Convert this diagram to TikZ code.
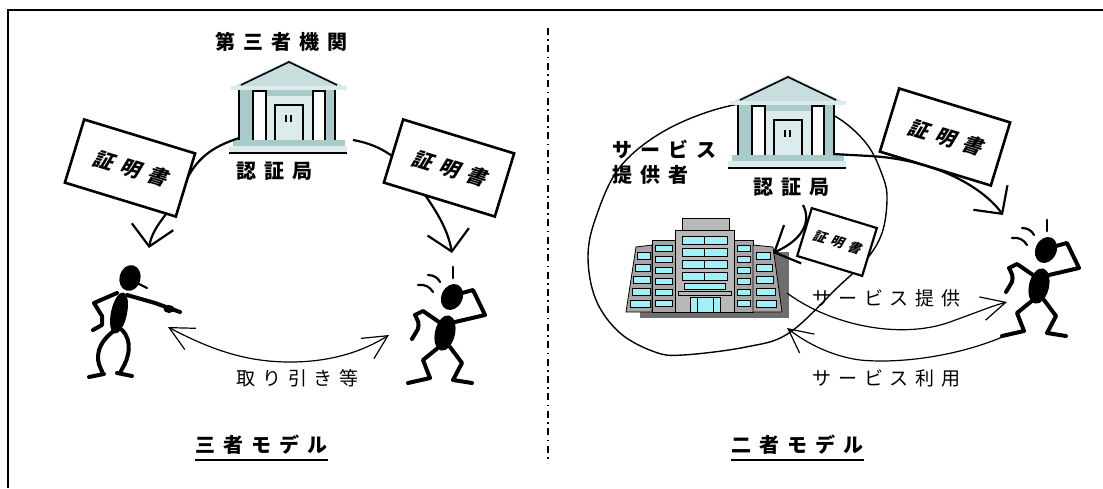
\documentclass[tikz,border=0pt]{standalone}
\usepackage{fontspec}
\newfontfamily\jp{Noto Sans CJK JP}
\newfontfamily\jpslant{Noto Sans CJK JP}[FakeSlant=0.25]
\usetikzlibrary{arrows.meta}

\definecolor{bankroof}{RGB}{200,222,222}
\definecolor{bankbody}{RGB}{168,202,202}
\definecolor{bankpale}{RGB}{220,235,235}
\definecolor{officewall}{RGB}{166,166,166}
\definecolor{officetower}{RGB}{184,184,184}
\definecolor{officeshade}{RGB}{110,110,110}
\definecolor{officewin}{RGB}{160,240,248}

\tikzset{
  lbl/.style={anchor=west, inner sep=0pt, font=\jp\fontsize{9.5}{9.5}\selectfont\addfontfeature{LetterSpace=36}},
  lblb/.style={anchor=west, inner sep=0pt, font=\jp\bfseries\fontsize{10}{10}\selectfont\addfontfeature{LetterSpace=40}},
  cert/.style={draw, fill=white, line width=1.3pt, rotate=-17, inner sep=0pt,
    minimum width=58pt, minimum height=33pt,
    font=\jpslant\bfseries\fontsize{10}{10}\selectfont\addfontfeature{LetterSpace=40}},
  smallcert/.style={cert, line width=1.1pt, minimum width=34pt, minimum height=25pt,
    font=\jpslant\bfseries\fontsize{6.5}{6.5}\selectfont\addfontfeature{LetterSpace=40}},
  deliver/.style={line width=1.1pt, -{Straight Barb[length=10pt,width=21pt]}},
  flow/.style={line width=0.6pt, -{Straight Barb[length=12pt,width=12pt]}},
  limb/.style={line width=2pt, line cap=round, line join=round},
  % bank with columns, origin at the middle of the roof base
  bank/.pic={
    \fill[bankbody] (-50,0) rectangle (46,52);
    \fill[bankpale] (-28,8) rectangle (24,52);
    \draw[line width=0.8pt] (-50,0) -- (-50,52) (46,0) -- (46,52);
    \filldraw[fill=white, line width=1pt] (-36,3) rectangle (-23,54);
    \filldraw[fill=white, line width=1pt] (24,3) rectangle (36,54);
    \filldraw[fill=bankpale, line width=1pt] (-14,52) -- (-14,17) -- (14,17) -- (14,52);
    \draw[line width=0.8pt] (-3,27) -- (-3,34) (2,27) -- (2,34);
    \fill[bankbody] (-56,52) rectangle (56,58);
    \fill[bankpale] (-60,58) rectangle (58,64);
    \draw[line width=1pt] (-60,65) -- (58,65);
    \fill[bankroof] (-58,0) -- (0,-28) -- (58,0) -- cycle;
    \fill[bankpale] (-58,-2) rectangle (58,1.5);
    \draw[line width=0.8pt] (-48,-3) -- (0,-26) -- (48,-3);
  },
  % man pointing to the right, origin at the body
  pointer/.pic={
    \fill[rotate around={-15:(11,-35)}] (11,-35) ellipse [x radius=10.5, y radius=13];
    \draw[line width=1.1pt, line cap=round] (18,-30) -- (28,-25);
    \fill[rotate around={-12:(0,0)}] (0,0) ellipse [x radius=8, y radius=21];
    \draw[limb] (8,-18) -- (36,-10) -- (61,-1);
    \fill (50,-4) ellipse [x radius=5.5, y radius=4];
    \draw[limb] (-2,-20) -- (-25,-10) -- (-17,3) -- (-17,12) -- (-26,17);
    \draw[limb] (-4,17) .. controls (-22,30) and (-24,45) .. (-18,56) -- (-16,61);
    \draw[limb] (-30,64) -- (-15,61);
    \draw[limb] (3,17) .. controls (14,28) and (10,45) .. (3,56) -- (1,60);
    \draw[limb] (-2,60) -- (13,63);
  },
  % man scratching his head
  worrier/.pic={
    \draw[line width=1.4pt, line cap=round] (8,-66) -- (8,-55);
    \draw[line width=1.1pt, line cap=round] (-27,-48) .. controls (-20,-49) and (-15,-46) .. (-12,-41);
    \draw[line width=1.1pt, line cap=round] (-17,-58) .. controls (-11,-58) and (-7,-55) .. (-5,-51);
    \fill[rotate around={-25:(7,-36)}] (7,-36) ellipse [x radius=10.5, y radius=13.5];
    \draw[limb] (10,-11) -- (40,-18) -- (28,-43) -- (17,-40);
    \fill[rotate around={-13:(0,0)}] (0,0) ellipse [x radius=10, y radius=18];
    \draw[limb] (-6,-11) -- (-22,-22) -- (-30,-18) .. controls (-26,-10) .. (-27,-4) -- (-33,6);
    \draw[limb] (-6,14) -- (-22,27) -- (-15,45) -- (-37,50);
    \draw[limb] (5,14) -- (17,30) -- (8,47) -- (27,50);
  },
}

\begin{document}
\begin{tikzpicture}[x=0.5pt, y=-0.5pt]
\useasboundingbox (0,0) rectangle (1103,488);
\draw[line width=1pt] (8,488) -- (8,10) -- (1103,10);
\draw[line width=0.8pt, dash pattern=on 3.5pt off 2.2pt on 0.8pt off 2.2pt] (548,28) -- (548,463);

% three-party model
\pic (bankA) at (289,88) {bank};
\node[lblb] (orgA) at (215,42) {第三者機関};
\node[lblb] (caA) at (236,171) {認証局};
\pic (userA) at (119,313) {pointer};
\pic (userB) at (445,333) {worrier};
\coordinate (fromA) at (239,138);
\coordinate (toA) at (149,248);
\coordinate (fromB) at (353,140);
\coordinate (toB) at (452,253);
\draw[deliver] (fromA) .. controls (212,147) and (196,158) .. (184,185) .. controls (172,212) and (153,224) .. (toA);
\draw[deliver] (fromB) .. controls (382,145) and (402,160) .. (416,182) .. controls (432,205) and (447,225) .. (toB);
\node[cert] (certA) at (130,168) {証明書};
\node[cert] (certB) at (449,168) {証明書};
\coordinate (dealA) at (168,327);
\coordinate (dealB) at (389,335);
\draw[flow, {Straight Barb[length=12pt,width=12pt]}-{Straight Barb[length=12pt,width=12pt]}]
  (dealA) .. controls (215,352) and (250,362) .. (290,362) .. controls (330,362) and (362,352) .. (dealB);
\node[lbl] (dealLbl) at (236,378) {取り引き等};
\node[lblb] (modelA) at (195,445) {三者モデル};
\draw[line width=1pt] ([yshift=-2.5pt]modelA.south west) -- ([yshift=-2.5pt]modelA.south east);

% two-party model
\draw[line width=0.7pt] plot[smooth cycle, tension=0.6] coordinates {
  (666,130) (729,106) (790,102) (833,115) (866,143) (883,177) (887,200) (882,233)
  (866,260) (838,287) (789,333) (746,347) (683,355) (655,352) (620,333) (596,300)
  (588,257) (596,217) (620,167)};
\pic (bankB) at (788,103) {bank};
\node[lblb] (caB) at (753,187) {認証局};
\node[lblb] (provA) at (612,149) {サービス};
\node[lblb] (provB) at (612,175) {提供者};

% office block
\fill[officeshade] (640,252) rectangle (789,318);
\filldraw[fill=officewall, line width=0.4pt] (626,312) -- (636,247) -- (652,245) -- (652,312) -- cycle;
\filldraw[fill=officewall, line width=0.4pt] (652,240) rectangle (675,312);
\filldraw[fill=officewall, line width=0.4pt] (734,240) rectangle (753,312);
\filldraw[fill=officewall, line width=0.4pt] (753,245) -- (773,247) -- (782,312) -- (753,312) -- cycle;
\filldraw[fill=officetower, line width=0.4pt] (682,218) rectangle (729,230);
\filldraw[fill=officetower, line width=0.4pt] (675,230) rectangle (734,312);
\foreach \y in {252,264,276,288,300} {
  \filldraw[fill=officewin, line width=0.3pt] ({638-0.15*(\y-247)},\y) rectangle (650,\y+7);
  \filldraw[fill=officewin, line width=0.3pt] (756,\y) rectangle ({770+0.12*(\y-247)},\y+7);
}
\foreach \y in {245,256,267,278,289,300} {
  \filldraw[fill=officewin, line width=0.3pt] (655,\y) rectangle (672,\y+6);
  \filldraw[fill=officewin, line width=0.3pt] (737,\y) rectangle (750,\y+6);
}
\foreach \y in {236,248,260,272} {
  \filldraw[fill=officewin, line width=0.3pt] (682,\y) rectangle (727,\y+8);
  \draw[line width=0.3pt] (704.5,\y) -- (704.5,\y+8);
}
\filldraw[fill=officewin, line width=0.3pt] (684,283) rectangle (725,289);
\filldraw[fill=officetower, line width=0.4pt] (678,291) rectangle (731,295);
\filldraw[fill=officewin, line width=0.3pt] (690,297) rectangle (720,312);
\draw[line width=0.3pt] (697,297) -- (697,312) (713,297) -- (713,312);

\pic (userC) at (1039,286) {worrier};
\coordinate (fromC) at (833,154);
\coordinate (toC) at (1003,215);
\coordinate (fromD) at (803,205);
\coordinate (toD) at (773,253);
\draw[deliver] (fromC) -- (870,156) .. controls (940,160) and (985,190) .. (toC);
\draw[deliver] (fromD) .. controls (812,222) and (802,240) .. (toD);
\node[cert] (certC) at (945,137) {証明書};
\node[smallcert] (certD) at (837,242) {証明書};
\coordinate (offerS) at (787,293);
\coordinate (offerT) at (1007,302);
\coordinate (useS) at (1007,335);
\coordinate (useT) at (787,328);
\draw[flow] (offerS) .. controls (830,325) and (900,340) .. (950,322) .. controls (975,313) and (992,306) .. (offerT);
\draw[flow] (useS) .. controls (960,356) and (900,364) .. (860,360) .. controls (830,356) and (805,342) .. (useT);
\node[lbl] (offerLbl) at (812,298) {サービス提供};
\node[lbl] (useLbl) at (812,378) {サービス利用};
\node[lblb] (modelB) at (731,445) {二者モデル};
\draw[line width=1pt] ([yshift=-2.5pt]modelB.south west) -- ([yshift=-2.5pt]modelB.south east);
\end{tikzpicture}
\end{document}
